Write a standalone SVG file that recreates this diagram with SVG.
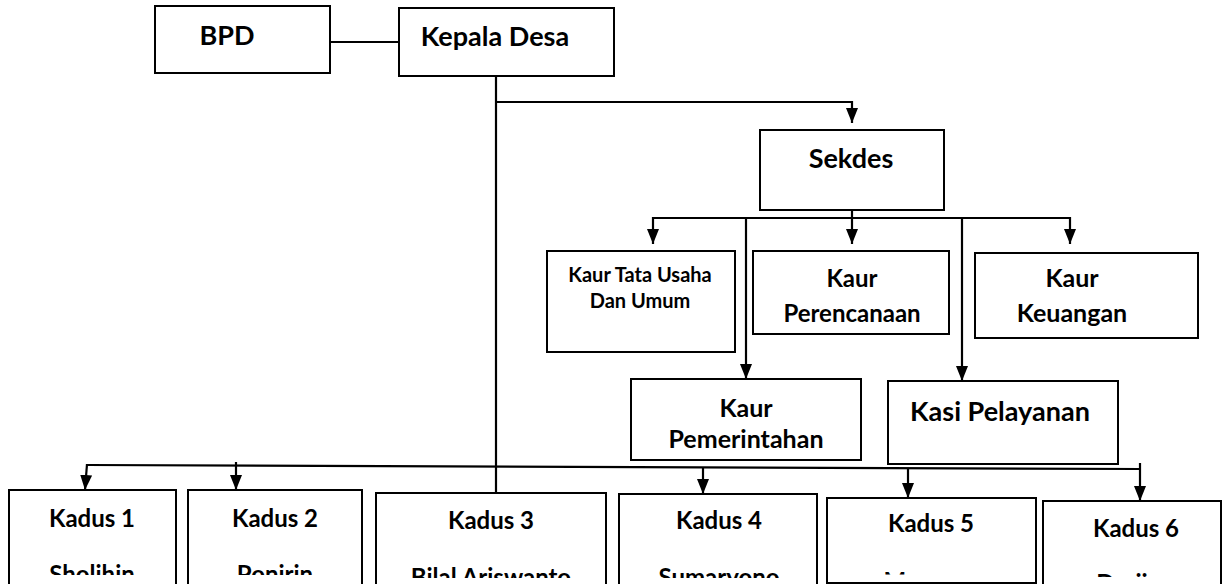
<svg xmlns="http://www.w3.org/2000/svg" width="1223" height="584" viewBox="0 0 1223 584">
<defs>
<style>
.box{fill:#fff;stroke:#000;stroke-width:2}
.ln{fill:none;stroke:#000;stroke-width:2.2}
.t{font-family:Lato,'Liberation Sans',sans-serif;font-weight:bold;fill:#000;text-anchor:middle}
.big{font-size:27px}
.mid{font-size:24px}
.m25{font-size:25px}
.sm{font-size:20px}
</style>
<marker id="ah" viewBox="0 0 15 12" refX="15" refY="6" markerWidth="15" markerHeight="12" markerUnits="userSpaceOnUse" orient="auto">
<path d="M0,0 L15,6 L0,12 z" fill="#000"/>
</marker>
<clipPath id="c12"><rect x="0" y="480" width="380" height="95"/></clipPath>
<clipPath id="c34"><rect x="370" y="480" width="455" height="98"/></clipPath>
<clipPath id="c5"><rect x="826" y="480" width="212" height="94.5"/></clipPath>
<clipPath id="c6"><rect x="1040" y="480" width="183" height="97"/></clipPath>
</defs>
<rect width="1223" height="584" fill="#fff"/>

<g id="connectors">
<line class="ln" x1="330" y1="42" x2="399" y2="42"/>
<line class="ln" x1="496" y1="76" x2="496" y2="493"/>
<polyline class="ln" points="496,102 852,102 852,123" marker-end="url(#ah)"/>
<line class="ln" x1="852" y1="198" x2="852" y2="244" marker-end="url(#ah)"/>
<line class="ln" x1="653" y1="218" x2="1070" y2="218"/>
<line class="ln" x1="653" y1="217" x2="653" y2="244" marker-end="url(#ah)"/>
<line class="ln" x1="1070" y1="217" x2="1070" y2="244" marker-end="url(#ah)"/>
<line class="ln" x1="746" y1="218" x2="746" y2="379" marker-end="url(#ah)"/>
<line class="ln" x1="962" y1="218" x2="962" y2="381" marker-end="url(#ah)"/>
<line class="ln" x1="87" y1="465" x2="1141" y2="469"/>
<line class="ln" x1="87" y1="464" x2="85" y2="490" marker-end="url(#ah)"/>
<line class="ln" x1="236" y1="462" x2="236" y2="490" marker-end="url(#ah)"/>
<line class="ln" x1="703" y1="467" x2="703" y2="494" marker-end="url(#ah)"/>
<line class="ln" x1="908" y1="468" x2="908" y2="498" marker-end="url(#ah)"/>
<line class="ln" x1="1140" y1="463" x2="1140" y2="501" marker-end="url(#ah)"/>
</g>

<g id="bpd">
<rect class="box" x="155" y="6" width="175" height="67"/>
<text class="t big" x="227" y="45">BPD</text>
</g>
<g id="kepala-desa">
<rect class="box" x="399" y="8" width="215" height="68"/>
<text class="t big" x="495" y="46">Kepala Desa</text>
</g>
<g id="sekdes">
<rect class="box" x="760" y="130" width="184" height="80"/>
<text class="t big" x="851" y="168">Sekdes</text>
</g>
<g id="kaur-tu">
<rect class="box" x="547" y="251" width="188" height="101"/>
<text class="t sm" x="640" y="282">Kaur Tata Usaha</text>
<text class="t sm" x="640" y="308">Dan Umum</text>
</g>
<g id="kaur-perencanaan">
<rect class="box" x="753" y="251" width="196" height="83"/>
<text class="t mid" x="852" y="287">Kaur</text>
<text class="t mid" x="852" y="322">Perencanaan</text>
</g>
<g id="kaur-keuangan">
<rect class="box" x="975" y="253" width="223" height="85"/>
<text class="t m25" x="1072" y="287">Kaur</text>
<text class="t m25" x="1072" y="322">Keuangan</text>
</g>
<g id="kaur-pemerintahan">
<rect class="box" x="631" y="379" width="230" height="81"/>
<text class="t m25" x="746" y="417">Kaur</text>
<text class="t m25" x="746" y="448">Pemerintahan</text>
</g>
<g id="kasi-pelayanan">
<rect class="box" x="888" y="381" width="230" height="83"/>
<text class="t" style="font-size:27px" x="1000" y="421">Kasi Pelayanan</text>
</g>

<g id="kadus1">
<rect class="box" x="9" y="490" width="167" height="110"/>
<text class="t mid" x="92" y="527">Kadus 1</text>
<text class="t mid" x="92" y="583" clip-path="url(#c12)">Sholihin</text>
</g>
<g id="kadus2">
<rect class="box" x="188" y="490" width="174" height="110"/>
<text class="t mid" x="275" y="527">Kadus 2</text>
<text class="t mid" x="275" y="583" clip-path="url(#c12)">Ponirin</text>
</g>
<g id="kadus3">
<rect class="box" x="376" y="493" width="230" height="110"/>
<text class="t mid" x="491" y="529">Kadus 3</text>
<text class="t mid" x="491" y="586" clip-path="url(#c34)">Bilal Ariswanto</text>
</g>
<g id="kadus4">
<rect class="box" x="619" y="494" width="198" height="110"/>
<text class="t mid" x="719" y="529">Kadus 4</text>
<text class="t mid" x="719" y="586" clip-path="url(#c34)">Sumaryono</text>
</g>
<g id="kadus5">
<rect class="box" x="827" y="498" width="209" height="85"/>
<text class="t mid" x="931" y="532">Kadus 5</text>
<text class="t mid" x="931" y="590" clip-path="url(#c5)">Marsono</text>
</g>
<g id="kadus6">
<rect class="box" x="1043" y="501" width="178" height="110"/>
<text class="t mid" x="1136" y="537">Kadus 6</text>
<text class="t mid" x="1122" y="592" clip-path="url(#c6)">Darji</text>
</g>
</svg>
